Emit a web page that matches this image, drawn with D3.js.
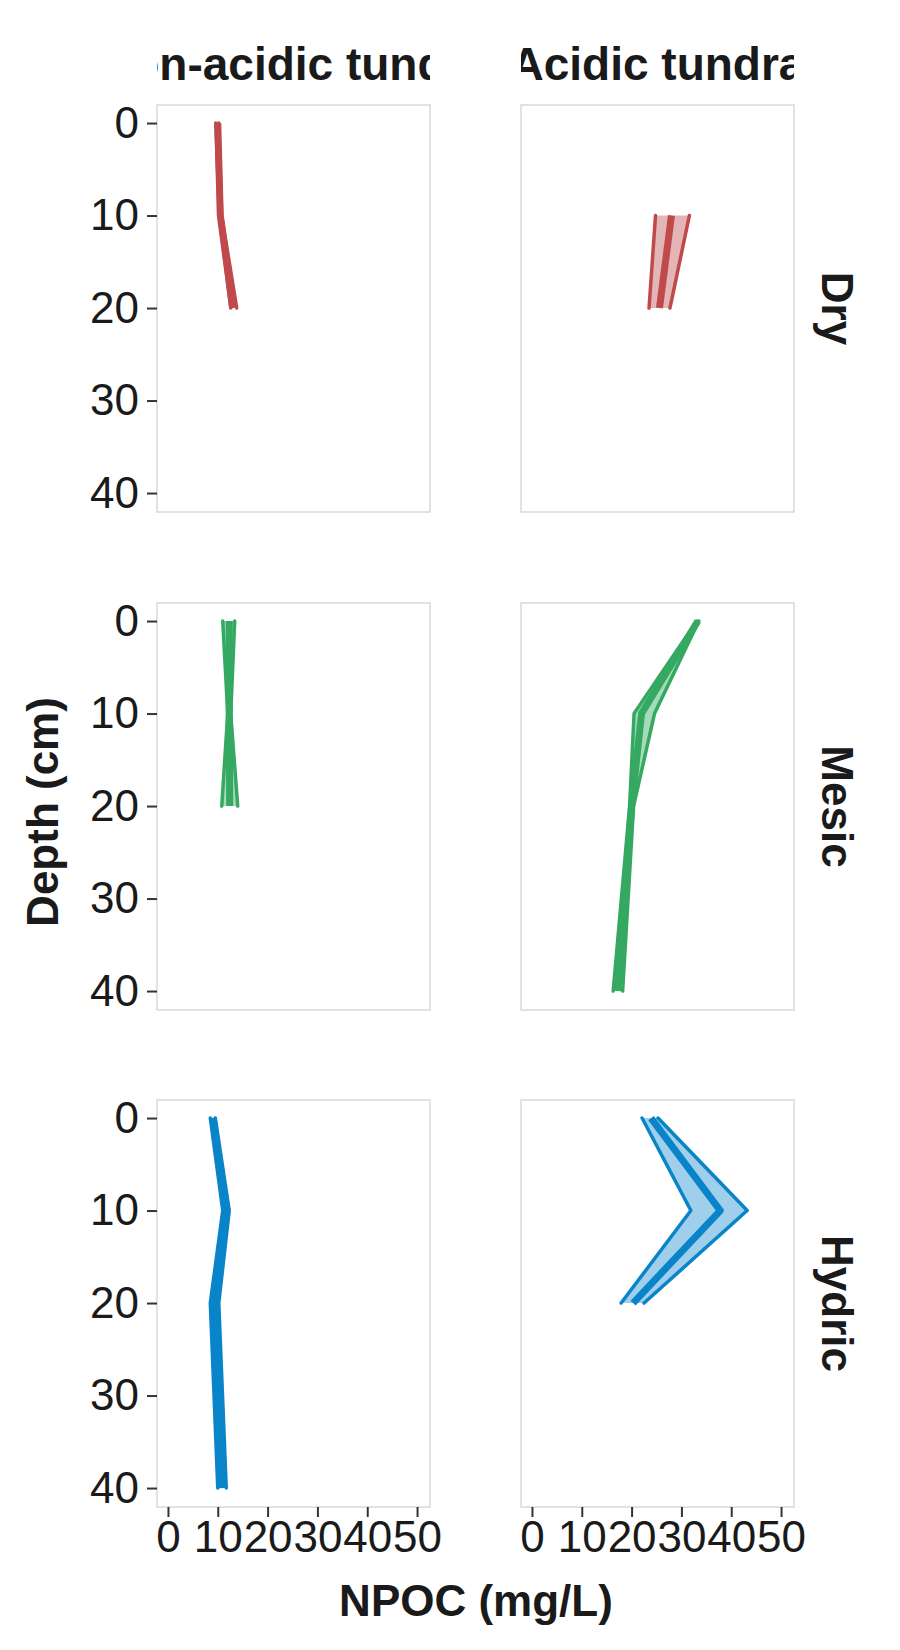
<!DOCTYPE html>
<html><head><meta charset="utf-8">
<script src="https://cdn.jsdelivr.net/npm/d3@7"></script>
<style>body{margin:0;background:#fff}text{font-family:Arial,"Liberation Sans",sans-serif}</style>
</head><body>
<script>
var width = 900, height = 1650;
var sites = ["Non-acidic tundra", "Acidic tundra"];
var moistures = ["Dry", "Mesic", "Hydric"];
var colors = {Dry: ["#c0494b", "#e4b5b6"], Mesic: ["#35a862", "#a6dbb9"], Hydric: ["#0a84c9", "#9fcfea"]};
var xTicks = [0, 10, 20, 30, 40, 50];
var yTicks = [0, 10, 20, 30, 40];

// depth, mean, low, high per panel
var dryNon = {depth: [0, 10, 20], mean: [10, 10.5, 13], lo: [9.6, 10.3, 12.6], hi: [10.2, 10.8, 13.8]};
var dryAcid = {depth: [10, 20], mean: [28, 25.6], lo: [24.8, 23.5], hi: [31.6, 27.7]};
var mesicNon = {depth: [0, 10, 20], mean: [12.3, 12.3, 12.4], lo: [11, 12, 10.8], hi: [13.4, 12.6, 14]};
var mesicAcid = {depth: [0, 10, 20, 40], mean: [33.3, 22, 20, 17.2], lo: [33.1, 20.5, 19.6, 16.3], hi: [33.5, 24.6, 20.4, 18.2]};
var hydricNon = {depth: [0, 10, 20, 40], mean: [9, 11.6, 9.3, 10.8], lo: [8.5, 11, 8.5, 10], hi: [9.5, 12.3, 10.2, 11.7]};
var hydricAcid = {depth: [0, 10, 20], mean: [23.9, 37.8, 20.3], lo: [22.1, 31.9, 17.9], hi: [25.3, 43.2, 22.5]};
var panels = [[dryNon, dryAcid], [mesicNon, mesicAcid], [hydricNon, hydricAcid]];

var colX = [157, 521], panelW = 273;
var rowY = [105, 603, 1100], panelH = 407;

var svg = d3.select("body").append("svg").attr("width", width).attr("height", height);

var x = d3.scaleLinear().domain([-2.2, 52.6]).range([0, panelW]);
var y = d3.scaleLinear().domain([-1.95, 42.05]).range([0, panelH]);

moistures.forEach(function(m, r){
  sites.forEach(function(s, c){
    var g = svg.append("g").attr("transform", "translate(" + colX[c] + "," + rowY[r] + ")");
    g.append("rect").attr("width", panelW).attr("height", panelH)
      .attr("fill", "#fff").attr("stroke", "#d9d9d9").attr("stroke-width", 1.5);
    var d = panels[r][c];
    var pts = d.depth.map(function(v, i){ return {depth: v, mean: d.mean[i], lo: d.lo[i], hi: d.hi[i]}; });
    var col = colors[m];
    g.append("path").datum(pts).attr("fill", col[1])
      .attr("d", d3.area().y(function(p){return y(p.depth);}).x0(function(p){return x(p.lo);}).x1(function(p){return x(p.hi);}));
    ["lo", "hi"].forEach(function(k){
      g.append("path").datum(pts).attr("fill", "none").attr("stroke", col[0]).attr("stroke-width", 3.5)
        .attr("stroke-linecap", "round").attr("stroke-linejoin", "round")
        .attr("d", d3.line().y(function(p){return y(p.depth);}).x(function(p){return x(p[k]);}));
    });
    g.append("path").datum(pts).attr("fill", "none").attr("stroke", col[0]).attr("stroke-width", 7)
      .attr("stroke-linejoin", "round")
      .attr("d", d3.line().y(function(p){return y(p.depth);}).x(function(p){return x(p.mean);}));

    if (c === 0) {
      var ya = g.append("g").call(d3.axisLeft(y).tickValues(yTicks).tickSize(10).tickPadding(8));
      ya.select(".domain").remove();
      ya.selectAll("line").attr("stroke", "#333").attr("stroke-width", 2);
      ya.selectAll("text").attr("font-size", 44).attr("fill", "#1a1a1a");
    }
    if (r === 2) {
      var xa = g.append("g").attr("transform", "translate(0," + panelH + ")")
        .call(d3.axisBottom(x).tickValues(xTicks).tickSize(10).tickPadding(4));
      xa.select(".domain").remove();
      xa.selectAll("line").attr("stroke", "#333").attr("stroke-width", 2);
      xa.selectAll("text").attr("font-size", 44).attr("fill", "#1a1a1a");
    }
    if (r === 0) {
      svg.append("clipPath").attr("id", "clip" + c).append("rect")
        .attr("x", colX[c]).attr("y", 0).attr("width", panelW).attr("height", rowY[0]);
      svg.append("text").attr("clip-path", "url(#clip" + c + ")")
        .attr("x", colX[c] + panelW / 2).attr("y", 80).attr("text-anchor", "middle")
        .attr("font-size", 46).attr("font-weight", "bold").attr("fill", "#1a1a1a").text(s);
    }
    if (c === 1) {
      var cx = colX[1] + panelW + 28, cy = rowY[r] + panelH / 2;
      svg.append("text").attr("transform", "translate(" + cx + "," + cy + ") rotate(90)")
        .attr("text-anchor", "middle").attr("font-size", 44).attr("font-weight", "bold")
        .attr("fill", "#1a1a1a").text(m);
    }
  });
});

svg.append("text").attr("transform", "translate(58,812) rotate(-90)").attr("text-anchor", "middle")
  .attr("font-size", 44).attr("font-weight", "bold").attr("fill", "#1a1a1a").text("Depth (cm)");
svg.append("text").attr("x", 476).attr("y", 1616).attr("text-anchor", "middle")
  .attr("font-size", 44).attr("font-weight", "bold").attr("fill", "#1a1a1a").text("NPOC (mg/L)");
</script>
</body></html>
